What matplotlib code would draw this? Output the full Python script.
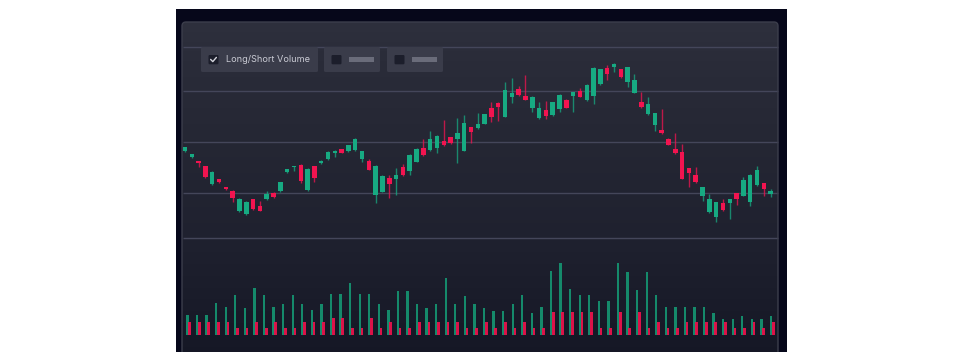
import matplotlib
matplotlib.use("Agg")
import matplotlib.pyplot as plt
import numpy as np
from matplotlib.patches import FancyBboxPatch, Rectangle
from matplotlib.lines import Line2D

# ---------------- data ----------------
opens = [109.3, 103, 99, 94, 76, 80.7, 72.7, 69.3, 49, 45.7,
         60.7, 54, 61, 67, 68.7, 87.7, 93, 95, 70, 93.7,
         96.7, 101, 107, 110.7, 108.7, 110, 101, 99, 65, 68.3,
         82.3, 81.3, 93.3, 89.3, 98.3, 111.7, 109.7, 112, 119, 122.7,
         121, 109.3, 132.7, 132, 136.3, 151.7, 157.3, 143.3, 162.7, 171,
         163.7, 152.3, 141.7, 150, 145, 150.7, 160, 164.3, 169, 159.7,
         164.3, 175.7, 191.7, 192.7, 190.7, 177.7, 167.3, 158.3, 145.7, 134.7,
         130, 121, 111, 107.7, 91.7, 85.3, 64.3, 47.7, 43, 57.3,
         57.3, 66.7, 64.3, 57.7, 75, 76.7, 66.3]
closes = [112.7, 105.7, 97.3, 83.3, 88.3, 78, 70.7, 62, 61, 58.3,
          50.7, 49.3, 66, 63, 77.7, 90.7, 94, 79.3, 91, 82.3,
          99.3, 108.3, 109, 107.3, 114.7, 121, 108.7, 90.3, 94, 84,
          75.7, 85, 85, 105, 111, 105, 120.7, 124.3, 115, 117,
          126.7, 137.3, 128, 136.3, 145.7, 143, 152.7, 170, 166.7, 165,
          160.3, 163.3, 151.7, 144, 157.7, 165.3, 152.3, 167.7, 163.3, 175,
          192.3, 190.7, 186, 195.7, 182.7, 192.7, 180, 152.7, 155.7, 146.7,
          126.7, 115.3, 106.7, 81.3, 87.3, 78, 72.7, 60.7, 57.7, 50,
          60.7, 61.3, 80, 85, 90.3, 70.7, 69]
highs = [113.5, 106.3, 99.5, 94.5, 89, 81.3, 73.3, 70, 61.7, 59,
         61.3, 59, 68.7, 67.7, 78.3, 91.3, 94.3, 95.7, 91.7, 94.3,
         100, 109, 109.7, 111.3, 115.3, 121.7, 109.3, 101, 94.7, 84.7,
         85, 92, 95.7, 105.7, 111.7, 120.7, 129, 125, 140, 123.3,
         142.3, 145, 133.3, 147.3, 146.3, 158.3, 158, 178.3, 182.3, 174.3,
         185, 164, 158.3, 159, 158.3, 166, 160.7, 168.3, 172.3, 175.7,
         193, 191.3, 195, 197.3, 191.3, 193.3, 185.7, 168.3, 163.3, 147.3,
         150.7, 121.7, 126.7, 116, 92.3, 92.7, 73.3, 65.7, 58.3, 60.7,
         61.3, 67.3, 83.3, 85.7, 94, 77.3, 71.3]
lows = [108.5, 102.5, 93.3, 82.5, 75.3, 77.5, 70, 58.3, 48.3, 45,
        50, 48.7, 60.3, 62.3, 68, 87, 89.3, 76.7, 69.3, 77.7,
        96, 100.3, 103.3, 106.7, 108, 109.3, 98.3, 89.7, 56.7, 67.7,
        61.7, 65, 84.3, 85, 97.7, 104.3, 109, 106.7, 114.3, 116.3,
        97, 108.7, 117, 131.3, 135.7, 138.3, 139, 142.7, 156.7, 164.3,
        159.7, 148.3, 141, 141, 144.3, 148.3, 151.7, 148.3, 162.7, 159,
        155.7, 175, 180, 188.3, 182, 173.3, 166.7, 152, 145, 129.3,
        126, 114.7, 106, 80.7, 73.3, 77.3, 59.3, 47, 38.3, 49.3,
        40.7, 55, 63.7, 54.3, 74.3, 64, 63.3]

long_volume = [20, 20, 20, 31.7, 28.3, 39.7, 27.3, 46.7, 39.7, 28.3, 31, 40, 31, 25.3, 31, 41, 41, 51.7, 41, 41, 31,
               25, 44.3, 44.3, 31, 27.3, 31, 57, 31, 39, 31, 27.3, 24.3, 24.3, 30.7, 39.7, 22, 28.3, 63.7, 71.7, 45.7, 40, 40,
               33.7, 33.7, 71.7, 63.3, 45.3, 63.3, 39.7, 28.3, 28.3, 28.3, 28.3, 28.3, 22, 15.7, 15.7, 19, 15.7, 15.7, 19]
short_volume = [12.7, 12.7, 12.7, 12.7, 12.7, 7, 7, 12.7, 7, 12.7, 7, 7, 12.7, 12.7, 12.7, 16.7, 16.7, 7, 7, 16.7, 7,
                12.7, 7, 7, 12.7, 12.7, 12.7, 12.7, 12.7, 7, 7, 12.7, 7, 12.7, 7, 12.7, 7, 7, 23, 23, 23, 23, 23,
                7, 7, 23, 7, 23, 7, 12.7, 7, 7, 12.7, 12.7, 12.7, 12.7, 12.7, 7, 7, 12.7, 7, 12.7]

legend_labels = ["Long/Short Volume", "", ""]

# ---------------- style ----------------
UP = "#17aa82"
DOWN = "#f21450"
VOL_UP = "#15916f"
VOL_DOWN = "#e8134b"

W, H, DPI = 959, 352, 100


def fx(px):
    return px / W


def fy(py):
    return 1 - py / H


fig = plt.figure(figsize=(W / DPI, H / DPI), dpi=DPI, facecolor="white")

# background / UI axes in pixel coordinates
bg = fig.add_axes([fx(176), fy(352), fx(787) - fx(176), fy(9) - fy(352)])
bg.set_xlim(176, 787)
bg.set_ylim(352, 9)
bg.set_facecolor("#06071a")
for s in bg.spines.values():
    s.set_visible(False)
bg.set_xticks([])
bg.set_yticks([])

# card with vertical gradient
grad_y = np.array([22, 60, 140, 240, 300, 360], dtype=float)
grad_c = np.array([[46, 48, 61], [42, 44, 57], [37, 39, 52], [31, 33, 47], [26, 28, 42], [21, 23, 37]]) / 255.0
yy = np.linspace(22, 360, 200)
img = np.stack([np.interp(yy, grad_y, grad_c[:, k]) for k in range(3)], axis=-1)[:, None, :]
card = FancyBboxPatch((182, 22), 596, 350, boxstyle="round,pad=0,rounding_size=4",
                      facecolor="none", edgecolor="#3c3e4c", linewidth=1.0, zorder=3)
im = bg.imshow(img, extent=(182, 778, 360, 22), aspect="auto", zorder=1, interpolation="bilinear")
clip = FancyBboxPatch((182, 22), 596, 350, boxstyle="round,pad=0,rounding_size=4",
                      facecolor="none", edgecolor="none", transform=bg.transData)
bg.add_patch(clip)
im.set_clip_path(clip)
bg.add_patch(card)

# horizontal rule lines of the panel
for gy in [47, 91, 142, 193, 238]:
    bg.plot([182.5, 777.5], [gy, gy], color="#44465a", lw=1.0, zorder=2, solid_capstyle="butt")

# legend buttons
buttons = [(201, 318), (324, 380), (387, 443)]
for (x0, x1), lab in zip(buttons, legend_labels):
    bg.add_patch(FancyBboxPatch((x0, 47), x1 - x0, 25, boxstyle="round,pad=0,rounding_size=1.5",
                                facecolor="#3a3c4a", edgecolor="none", zorder=4))
    cx = x0 + 7.5
    bg.add_patch(FancyBboxPatch((cx, 55), 10, 9.3, boxstyle="round,pad=0,rounding_size=1.2",
                                facecolor="#1c1e2b", edgecolor="none", zorder=5))
    if lab:
        bg.text(x0 + 25, 59.8, lab, color="#c9cad3", fontsize=6.6, family=["Inter", "DejaVu Sans"],
                va="center", ha="left", zorder=6)
    else:
        bg.add_patch(Rectangle((cx + 17.5, 56.8), 24.5, 5.5, facecolor="#6a6c7a", edgecolor="none", zorder=5))

# check mark in first box
bg.plot([210.6, 212.8, 216.4], [59.4, 61.6, 57.4], color="#d4d5dc", lw=1.0, zorder=6,
        solid_capstyle="round", solid_joinstyle="round")

# ---------------- price (candlestick) axes ----------------
n = len(opens)
ax = fig.add_axes([fx(182), fy(352), fx(778) - fx(182), fy(22) - fy(352)])
ax.patch.set_alpha(0)
ax.set_xlim(-0.44, 87.08)
ax.set_ylim(260 - 352, 260 - 22)
ax.axis("off")
idx = np.arange(n)
o = np.array(opens)
c = np.array(closes)
h = np.array(highs)
l = np.array(lows)
colors = [UP if cc >= oo else DOWN for oo, cc in zip(o, c)]
ax.vlines(idx, l, h, colors=colors, lw=1.0, alpha=0.75, zorder=3)
ax.bar(idx, np.maximum(np.abs(c - o), 1.0), bottom=np.minimum(o, c), width=0.66,
       color=colors, edgecolor="none", zorder=4)

# ---------------- volume axes ----------------
m = len(long_volume)
axv = fig.add_axes([fx(182), fy(335), fx(778) - fx(182), 80 / H])
axv.patch.set_alpha(0)
axv.set_xlim(-0.575, 61.73)
axv.set_ylim(0, 80)
axv.axis("off")
vi = np.arange(m)
axv.bar(vi, long_volume, width=0.24, color=VOL_UP, edgecolor="none", alpha=0.95, zorder=3)
axv.bar(vi + 0.23, short_volume, width=0.28, color=VOL_DOWN, edgecolor="none", alpha=0.95, zorder=4)

fig.savefig("out.png", dpi=DPI, facecolor="white")
